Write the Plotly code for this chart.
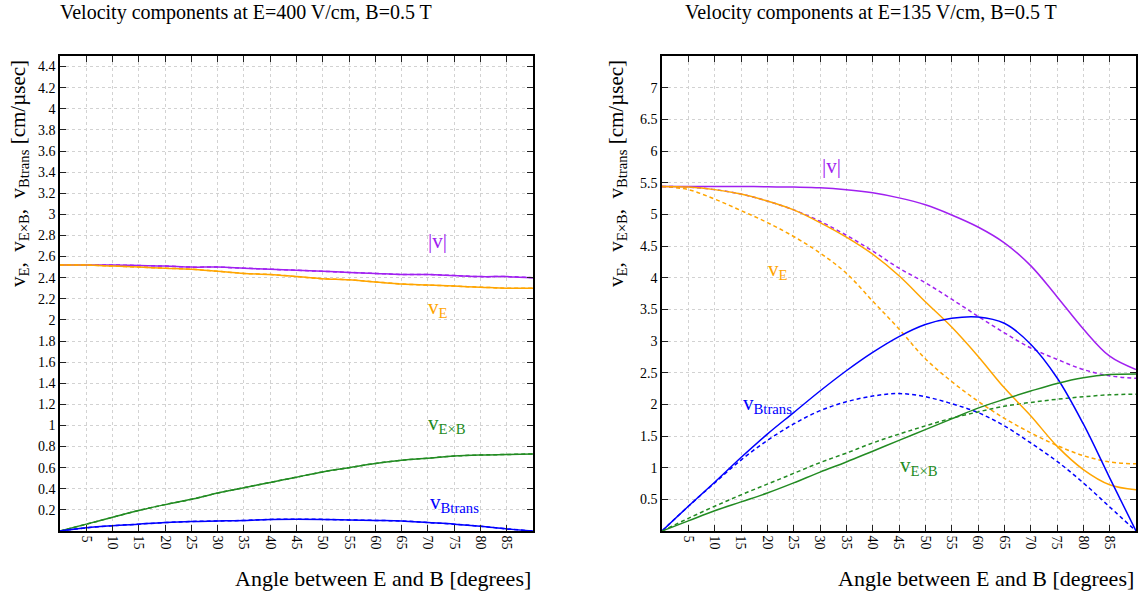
import plotly.graph_objects as go

# ---------------- data ----------------
angles = [0, 5, 10, 15, 20, 25, 30, 35, 40, 45, 50, 55, 60, 65, 70, 75, 80, 85, 90]

# Left panel: E=400 V/cm, B=0.5 T
L_v_abs = [2.52, 2.52, 2.52, 2.515, 2.51, 2.50, 2.50, 2.49, 2.48, 2.47, 2.46, 2.45, 2.44, 2.43, 2.43, 2.42, 2.41, 2.41, 2.40]
L_v_E = [2.52, 2.52, 2.51, 2.50, 2.49, 2.48, 2.46, 2.44, 2.43, 2.41, 2.39, 2.38, 2.36, 2.34, 2.33, 2.32, 2.31, 2.30, 2.30]
L_v_ExB = [0.0, 0.065, 0.13, 0.195, 0.25, 0.30, 0.36, 0.41, 0.46, 0.51, 0.56, 0.60, 0.64, 0.67, 0.69, 0.71, 0.72, 0.725, 0.73]
L_v_Bt = [0.0, 0.03, 0.05, 0.065, 0.08, 0.09, 0.095, 0.10, 0.11, 0.112, 0.11, 0.105, 0.10, 0.095, 0.08, 0.065, 0.045, 0.02, 0.0]

# Right panel: E=135 V/cm, B=0.5 T (solid = full, dashed = comparison)
R_v_abs = [5.44, 5.44, 5.44, 5.44, 5.435, 5.43, 5.42, 5.39, 5.34, 5.26, 5.15, 4.99, 4.80, 4.55, 4.19, 3.70, 3.19, 2.76, 2.55]
R_v_abs_d = [5.44, 5.43, 5.39, 5.32, 5.21, 5.07, 4.89, 4.67, 4.42, 4.15, 3.92, 3.66, 3.39, 3.13, 2.89, 2.71, 2.55, 2.45, 2.41]
R_v_E = [5.44, 5.43, 5.39, 5.32, 5.21, 5.07, 4.87, 4.64, 4.37, 4.03, 3.62, 3.22, 2.76, 2.26, 1.82, 1.34, 0.97, 0.73, 0.65]
R_v_E_d = [5.44, 5.39, 5.24, 5.06, 4.87, 4.65, 4.39, 4.07, 3.63, 3.19, 2.72, 2.36, 2.05, 1.78, 1.55, 1.35, 1.19, 1.09, 1.06]
R_v_Bt = [0.0, 0.39, 0.77, 1.16, 1.53, 1.87, 2.21, 2.53, 2.82, 3.07, 3.26, 3.36, 3.38, 3.28, 2.95, 2.42, 1.69, 0.84, 0.0]
R_v_Bt_d = [0.0, 0.39, 0.76, 1.12, 1.43, 1.69, 1.90, 2.04, 2.13, 2.17, 2.12, 2.01, 1.87, 1.66, 1.39, 1.10, 0.76, 0.38, 0.0]
R_v_ExB = [0.0, 0.16, 0.32, 0.46, 0.60, 0.76, 0.93, 1.09, 1.26, 1.43, 1.60, 1.77, 1.94, 2.08, 2.21, 2.33, 2.42, 2.47, 2.48]
R_v_ExB_d = [0.0, 0.20, 0.39, 0.57, 0.74, 0.91, 1.08, 1.23, 1.39, 1.53, 1.66, 1.78, 1.88, 1.97, 2.03, 2.08, 2.12, 2.15, 2.16]

x_ticks = [5, 10, 15, 20, 25, 30, 35, 40, 45, 50, 55, 60, 65, 70, 75, 80, 85]
L_y_ticks = [0.2, 0.4, 0.6, 0.8, 1, 1.2, 1.4, 1.6, 1.8, 2, 2.2, 2.4, 2.6, 2.8, 3, 3.2, 3.4, 3.6, 3.8, 4, 4.2, 4.4]
R_y_ticks = [0.5, 1, 1.5, 2, 2.5, 3, 3.5, 4, 4.5, 5, 5.5, 6, 6.5, 7]

titles = ["Velocity components at E=400 V/cm, B=0.5 T",
          "Velocity components at E=135 V/cm, B=0.5 T"]
x_title = "Angle between E and B [degrees]"
y_title = "v<sub>E</sub>,  v<sub>E×B</sub>,  v<sub>Btrans</sub> [cm/µsec]"

PURPLE = "#a020f0"
ORANGE = "#ffa500"
GREEN = "#228b22"
BLUE = "#0000ff"
FONT = "Liberation Serif, 'Times New Roman', Times, 'DejaVu Serif', serif"
DASH = "4px,3px"

fig = go.Figure()

def add(xa, ya, y, color, dashed=False):
    fig.add_trace(go.Scatter(
        x=angles, y=y, mode="lines", xaxis=xa, yaxis=ya,
        line=dict(color=color, width=1.5, dash=DASH if dashed else "solid", shape="spline", smoothing=1.0),
        showlegend=False, hoverinfo="skip"))

# left
for arr, c in [(L_v_abs, PURPLE), (L_v_E, ORANGE), (L_v_ExB, GREEN), (L_v_Bt, BLUE)]:
    add("x", "y", arr, c, dashed=True)
    add("x", "y", arr, c)
# right
for arr, c in [(R_v_abs_d, PURPLE), (R_v_E_d, ORANGE), (R_v_Bt_d, BLUE), (R_v_ExB_d, GREEN)]:
    add("x2", "y2", arr, c, dashed=True)
for arr, c in [(R_v_abs, PURPLE), (R_v_E, ORANGE), (R_v_Bt, BLUE), (R_v_ExB, GREEN)]:
    add("x2", "y2", arr, c)

W, H = 1139, 593
def px(v): return v / W
def py(v): return 1 - v / H

axis_common = dict(
    showline=True, linecolor="black", linewidth=1.6, mirror="ticks",
    ticks="inside", ticklen=6, tickwidth=1.4, tickcolor="#222",
    showgrid=True, gridcolor="#d2d2d2", griddash="dot", gridwidth=1,
    zeroline=False, automargin=False,
    tickfont=dict(family=FONT, size=14, color="black"),
)

fig.update_layout(
    width=W, height=H, margin=dict(l=0, r=0, t=0, b=0),
    paper_bgcolor="white", plot_bgcolor="white",
    font=dict(family=FONT),
    xaxis=dict(domain=[px(60), px(533)], range=[0, 90], tickvals=x_ticks, tickangle=90, anchor="y", **axis_common),
    yaxis=dict(domain=[py(531), py(56)], range=[0, 4.5], tickvals=L_y_ticks, anchor="x", **axis_common),
    xaxis2=dict(domain=[px(662), px(1136)], range=[0, 90], tickvals=x_ticks, tickangle=90, anchor="y2", **axis_common),
    yaxis2=dict(domain=[py(531), py(56)], range=[0, 7.5], tickvals=R_y_ticks, anchor="x2", **axis_common),
)

ann = []
# titles
ann.append(dict(text=titles[0], x=px(246), y=py(13), xref="paper", yref="paper", showarrow=False,
                xanchor="center", yanchor="middle", font=dict(family=FONT, size=20, color="black")))
ann.append(dict(text=titles[1], x=px(871), y=py(13), xref="paper", yref="paper", showarrow=False,
                xanchor="center", yanchor="middle", font=dict(family=FONT, size=20, color="black")))
# x titles
for xr in [533, 1136]:
    ann.append(dict(text=x_title, x=px(xr), y=py(578), xref="paper", yref="paper", showarrow=False,
                    xanchor="right", yanchor="middle", font=dict(family=FONT, size=22, color="black")))
# y titles
for xc in [19, 617]:
    ann.append(dict(text=y_title, x=px(xc), y=py(174), xref="paper", yref="paper", showarrow=False,
                    textangle=-90, xanchor="center", yanchor="middle", font=dict(family=FONT, size=21, color="black")))

# curve labels
labels = [
    ("x", "y", 71.8, 2.75, "|v|", PURPLE),
    ("x", "y", 72.0, 2.11, "v<sub>E</sub>", ORANGE),
    ("x", "y", 73.7, 1.01, "v<sub>E×B</sub>", GREEN),
    ("x", "y", 75.0, 0.27, "v<sub>Btrans</sub>", BLUE),
    ("x2", "y2", 32.1, 5.76, "|v|", PURPLE),
    ("x2", "y2", 22.0, 4.12, "v<sub>E</sub>", ORANGE),
    ("x2", "y2", 20.1, 2.01, "v<sub>Btrans</sub>", BLUE),
    ("x2", "y2", 48.8, 1.02, "v<sub>E×B</sub>", GREEN),
]
for xr, yr, xv, yv, t, c in labels:
    ann.append(dict(text=t, x=xv, y=yv, xref=xr, yref=yr, showarrow=False,
                    xanchor="center", yanchor="middle", font=dict(family=FONT, size=21, color=c)))

fig.update_layout(annotations=ann)
fig.write_html("out.html")
